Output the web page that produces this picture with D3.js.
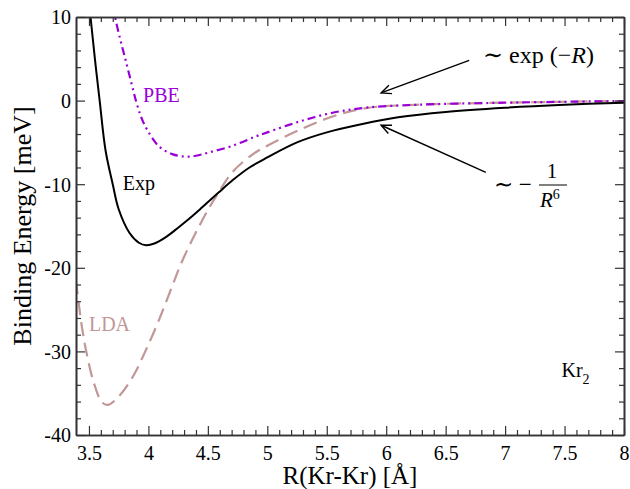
<!DOCTYPE html>
<html>
<head>
<meta charset="utf-8">
<script src="https://cdn.jsdelivr.net/npm/d3@7"></script>
<style>
  html, body { margin: 0; padding: 0; background: #fff; }
  svg { display: block; }
  text { font-family: "Liberation Serif", "Times New Roman", serif; }
</style>
</head>
<body>
<svg id="chart" width="630" height="489"></svg>
<script>
// Kr2 binding energy curves: experiment vs. LDA and PBE
const expR   = [3.50, 3.513, 3.55, 3.59, 3.64, 3.70, 3.75, 3.84, 3.92, 3.98, 4.05, 4.15, 4.25, 4.37, 4.45, 4.59, 4.71, 4.85, 5.0, 5.25, 5.5, 5.8, 6.1, 6.5, 7.0, 7.5, 8.0];
const expE   = [11.5, 10, 5, 0, -6.0, -10.0, -13.0, -15.8, -17.0, -17.3, -17.1, -16.3, -15.2, -13.8, -12.8, -11.0, -9.5, -8.0, -6.8, -5.0, -3.8, -2.8, -2.0, -1.35, -0.85, -0.5, -0.25];

const pbeR   = [3.70, 3.72, 3.76, 3.80, 3.85, 3.895, 3.94, 3.99, 4.09, 4.20, 4.31, 4.40, 4.51, 4.71, 4.90, 5.0, 5.27, 5.55, 5.83, 6.25, 7.0, 8.0];
const pbeE   = [12, 10, 7.5, 5.3, 2.5, 0, -2.0, -3.5, -5.5, -6.4, -6.7, -6.6, -6.2, -5.4, -4.3, -3.8, -2.5, -1.45, -0.85, -0.5, -0.25, -0.05];

const ldaR   = [3.39, 3.44, 3.48, 3.54, 3.61, 3.66, 3.75, 3.87, 3.98, 4.09, 4.20, 4.29, 4.48, 4.59, 4.71, 4.88, 5.0, 5.27, 5.55, 5.83, 6.25, 7.0, 8.0];
const ldaE   = [-21.5, -27, -30.2, -33.7, -36.1, -36.4, -35.4, -33.0, -29.8, -26.2, -22.2, -19.0, -13.6, -11.0, -8.5, -6.4, -5.4, -3.5, -1.9, -0.9, -0.5, -0.25, -0.05];

const xMajorTicks = [3.5, 4, 4.5, 5, 5.5, 6, 6.5, 7, 7.5, 8];
const xTickLabels = ["3.5", "4", "4.5", "5", "5.5", "6", "6.5", "7", "7.5", "8"];
const yMajorTicks = [10, 0, -10, -20, -30, -40];
const yTickLabels = ["10", "0", "-10", "-20", "-30", "-40"];

const svg = d3.select("#chart");
const plotLeft = 76, plotRight = 624, plotTop = 17, plotBottom = 435;

const x = d3.scaleLinear().domain([3.391, 8]).range([plotLeft, plotRight]);
const y = d3.scaleLinear().domain([-40, 10]).range([plotBottom, plotTop]);

const defs = svg.append("defs");
// clip region for the curves
defs.append("clipPath").attr("id", "plotClip")
  .append("rect").attr("x", plotLeft).attr("y", plotTop)
  .attr("width", plotRight - plotLeft).attr("height", plotBottom - plotTop);

defs.append("marker")
  .attr("id", "openHead").attr("markerUnits", "userSpaceOnUse")
  .attr("viewBox", "-12 -6 14 12").attr("refX", 0).attr("refY", 0)
  .attr("markerWidth", 14).attr("markerHeight", 12).attr("orient", "auto")
  .append("path").attr("d", "M-10,-4.5 L0,0 L-10,4.5")
  .attr("fill", "none").attr("stroke", "#000").attr("stroke-width", 1.4);

// curves
const line = d3.line().x(d => x(d[0])).y(d => y(d[1])).curve(d3.curveCatmullRom.alpha(0.5));
const curves = svg.append("g").attr("clip-path", "url(#plotClip)");

curves.append("path").datum(d3.zip(ldaR, ldaE)).attr("d", line)
  .attr("fill", "none").attr("stroke", "#c19797").attr("stroke-width", 2.2)
  .attr("stroke-dasharray", "14,7");

curves.append("path").datum(d3.zip(pbeR, pbeE)).attr("d", line)
  .attr("fill", "none").attr("stroke", "#9a00d6").attr("stroke-width", 2.2)
  .attr("stroke-dasharray", "8,4,2,4,2,4");

curves.append("path").datum(d3.zip(expR, expE)).attr("d", line)
  .attr("fill", "none").attr("stroke", "#000").attr("stroke-width", 2);

// axes: ticks pointing inward on all four sides
const frameColor = "#333";
const xMinor = d3.range(35, 81).map(v => v / 10).filter(v => !xMajorTicks.some(m => Math.abs(m - v) < 1e-6));
const yMinor = d3.range(-40, 11, 2).filter(v => v % 10 !== 0);

const axB = d3.axisBottom(x).tickValues(xMajorTicks).tickSizeInner(-9).tickSizeOuter(0).tickFormat((d, i) => xTickLabels[i]);
const axBm = d3.axisBottom(x).tickValues(xMinor).tickSizeInner(-5).tickSizeOuter(0).tickFormat("");
const axT = d3.axisTop(x).tickValues(xMajorTicks).tickSizeInner(-9).tickSizeOuter(0).tickFormat("");
const axTm = d3.axisTop(x).tickValues(xMinor).tickSizeInner(-5).tickSizeOuter(0).tickFormat("");
const axL = d3.axisLeft(y).tickValues(yMajorTicks).tickSizeInner(-9).tickSizeOuter(0).tickFormat((d, i) => yTickLabels[i]);
const axLm = d3.axisLeft(y).tickValues(yMinor).tickSizeInner(-5).tickSizeOuter(0).tickFormat("");
const axR = d3.axisRight(y).tickValues(yMajorTicks).tickSizeInner(-9).tickSizeOuter(0).tickFormat("");
const axRm = d3.axisRight(y).tickValues(yMinor).tickSizeInner(-5).tickSizeOuter(0).tickFormat("");

function styleAxis(g) {
  g.attr("font-family", null);
  g.select(".domain").attr("stroke", frameColor).attr("stroke-width", 1.6);
  g.selectAll(".tick line").attr("stroke", frameColor).attr("stroke-width", 1.2);
  g.selectAll(".tick text").attr("fill", "#000")
    .style("font-family", "'Liberation Serif', serif").style("font-size", "20px");
}

svg.append("g").attr("transform", `translate(0,${plotBottom})`).call(axB).call(styleAxis)
  .selectAll(".tick text").attr("dy", "0").attr("y", 25);
svg.append("g").attr("transform", `translate(0,${plotBottom})`).call(axBm).call(styleAxis);
svg.append("g").attr("transform", `translate(0,${plotTop})`).call(axT).call(styleAxis);
svg.append("g").attr("transform", `translate(0,${plotTop})`).call(axTm).call(styleAxis);
svg.append("g").attr("transform", `translate(${plotLeft},0)`).call(axL).call(styleAxis)
  .selectAll(".tick text").attr("x", -5).attr("dy", "0.34em");
svg.append("g").attr("transform", `translate(${plotLeft},0)`).call(axLm).call(styleAxis);
svg.append("g").attr("transform", `translate(${plotRight},0)`).call(axR).call(styleAxis);
svg.append("g").attr("transform", `translate(${plotRight},0)`).call(axRm).call(styleAxis);

// axis titles
svg.append("text").attr("x", (plotLeft + plotRight) / 2).attr("y", 484)
  .attr("text-anchor", "middle").style("font-size", "25px").attr("fill", "#000")
  .text("R(Kr-Kr) [Å]");
svg.append("text")
  .attr("transform", `translate(31,${(plotTop + plotBottom) / 2}) rotate(-90)`)
  .attr("text-anchor", "middle").style("font-size", "26px").attr("fill", "#000")
  .text("Binding Energy [meV]");

// curve labels
svg.append("text").attr("x", x(3.955)).attr("y", y(-0.2)).style("font-size", "20px")
  .attr("fill", "#9a00d6").text("PBE");
svg.append("text").attr("x", x(3.785)).attr("y", y(-10.7)).style("font-size", "20px")
  .attr("fill", "#000").text("Exp");
svg.append("text").attr("x", x(3.50)).attr("y", y(-27.6)).style("font-size", "20px")
  .attr("fill", "#c19797").text("LDA");

const kr = svg.append("text").attr("x", x(7.474)).attr("y", y(-33.1)).style("font-size", "20px").attr("fill", "#000");
kr.append("tspan").text("Kr");
kr.append("tspan").attr("dy", 7).style("font-size", "14px").text("2");

// asymptotic-behaviour annotations
const arrows = [
  { from: [6.698, 4.82], to: [5.957, 0.92] },
  { from: [6.838, -8.58], to: [5.957, -2.95] }
];
svg.append("g").selectAll("line").data(arrows).join("line")
  .attr("x1", d => x(d.from[0])).attr("y1", d => y(d.from[1]))
  .attr("x2", d => x(d.to[0])).attr("y2", d => y(d.to[1]))
  .attr("stroke", "#000").attr("stroke-width", 1.4)
  .attr("marker-end", "url(#openHead)");

const mathFont = "'Liberation Serif', 'DejaVu Serif', serif";
const expLabel = svg.append("text").attr("x", 483).attr("y", 63)
  .style("font-size", "24px").style("font-family", mathFont).attr("fill", "#000");
expLabel.append("tspan").text("∼ exp (−");
expLabel.append("tspan").style("font-style", "italic").text("R");
expLabel.append("tspan").text(")");

const frac = svg.append("g").style("font-family", mathFont).attr("fill", "#000");
frac.append("text").attr("x", 494).attr("y", 192).style("font-size", "23px").text("∼ −");
frac.append("text").attr("x", 552).attr("y", 178).attr("text-anchor", "middle")
  .style("font-size", "21px").text("1");
frac.append("line").attr("x1", 539).attr("x2", 567).attr("y1", 185).attr("y2", 185)
  .attr("stroke", "#000").attr("stroke-width", 1);
const den = frac.append("text").attr("x", 540).attr("y", 207).style("font-size", "21px");
den.append("tspan").style("font-style", "italic").text("R");
den.append("tspan").attr("dy", -8).style("font-size", "14px").text("6");
</script>
</body>
</html>
